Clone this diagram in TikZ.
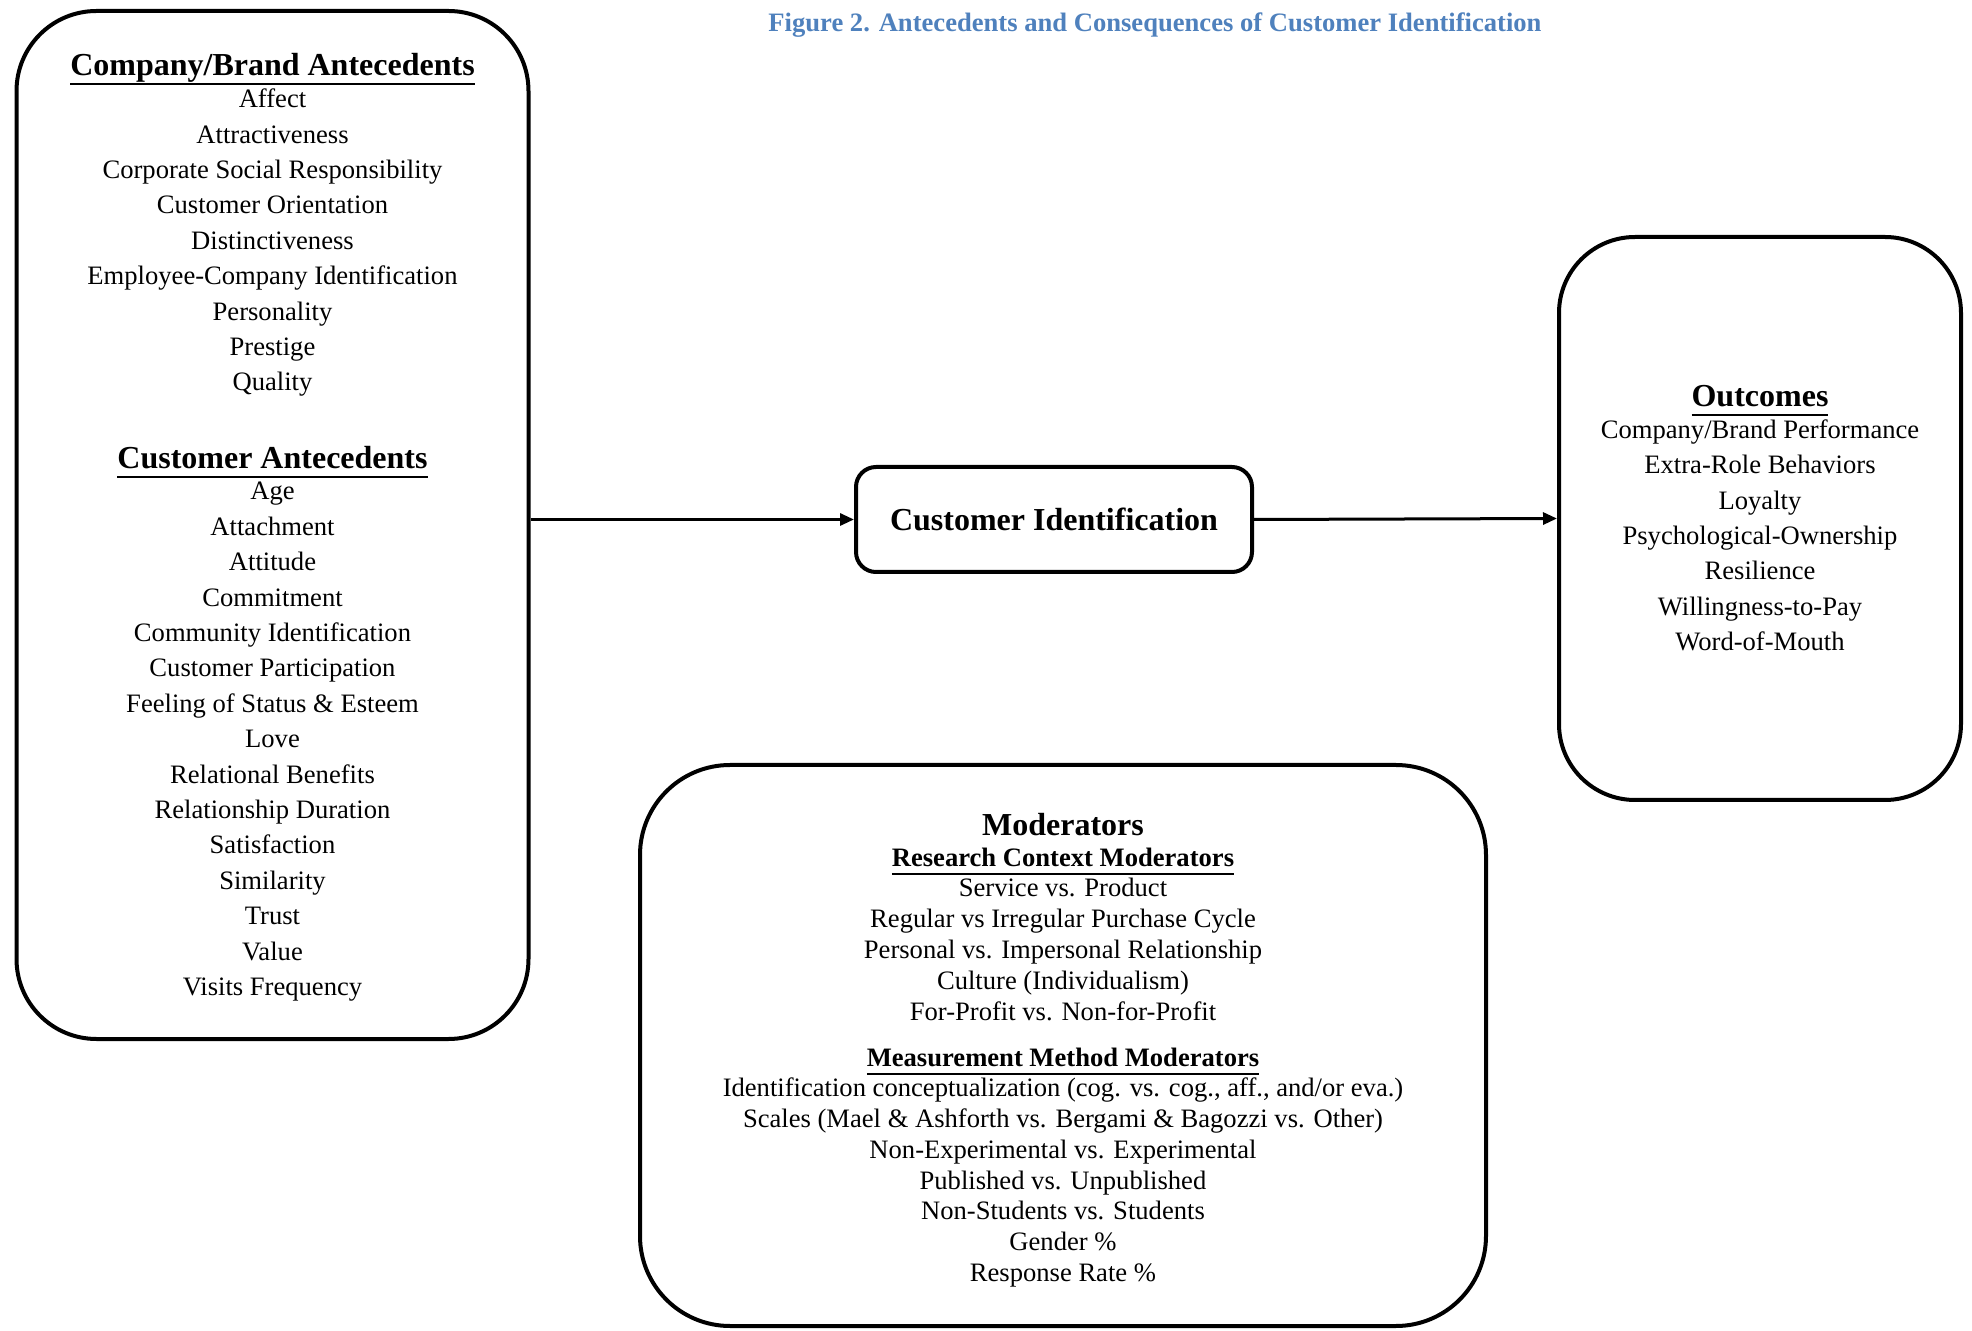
\documentclass[tikz,border=0pt]{standalone}
\usepackage{fontspec}
\setmainfont{Liberation Serif}
\usetikzlibrary{arrows.meta}
\definecolor{figblue}{RGB}{79,129,189}

% thick underline, set just under the descenders
\newcommand{\thickul}[3]{\leavevmode\setbox0=\hbox{#3}\rlap{\rule[-#1]{\wd0}{#2}}\box0}
\newcommand{\hdr}[1]{{\fontsize{16}{17.7}\selectfont\bfseries\thickul{4.6pt}{1.2pt}{#1}}}
\newcommand{\subhdr}[1]{{\bfseries\thickul{3.9pt}{1pt}{#1}}}

\tikzset{
	bigbox/.style={draw, line width=2pt, align=center, inner sep=0pt},
	flow/.style={line width=1.5pt, -{Triangle[length=7pt,width=6pt]}}
}

\begin{document}
\begin{tikzpicture}[x=0.5pt,y=-0.5pt]
%
	\useasboundingbox (0,0) rectangle (1972,1331);
%
	\node[text=figblue, font=\fontsize{13.3}{16}\selectfont\bfseries] (title) at (1155,25)
		{Figure 2. Antecedents and Consequences of Customer Identification};
%
	\node[bigbox, rounded corners=40pt, minimum width=256pt, minimum height=514pt,
		font=\fontsize{13.3}{17.7}\selectfont] (ante) at (272.5,525) {%
		\rule{0pt}{13.5pt}\hdr{Company/Brand Antecedents}\\[-1.8pt]
		Affect\\
		Attractiveness\\
		Corporate Social Responsibility\\
		Customer Orientation\\
		Distinctiveness\\
		Employee-Company Identification\\
		Personality\\
		Prestige\\
		Quality\\[21.3pt]
		\hdr{Customer Antecedents}\\[-2.2pt]
		Age\\
		Attachment\\
		Attitude\\
		Commitment\\
		Community Identification\\
		Customer Participation\\
		Feeling of Status \& Esteem\\
		Love\\
		Relational Benefits\\
		Relationship Duration\\
		Satisfaction\\
		Similarity\\
		Trust\\
		Value\\
		Visits Frequency};
%
	\node[bigbox, rounded corners=10pt, minimum width=198pt, minimum height=52.5pt,
		font=\fontsize{16}{18}\selectfont\bfseries] (cid) at (1054,519.5)
		{Customer Identification};
%
	\node[bigbox, rounded corners=38pt, minimum width=201pt, minimum height=281.5pt,
		font=\fontsize{13.3}{17.7}\selectfont] (outc) at (1760,518.5) {%
		\hdr{Outcomes}\\[-2pt]
		Company/Brand Performance\\
		Extra-Role Behaviors\\
		Loyalty\\
		Psychological-Ownership\\
		Resilience\\
		Willingness-to-Pay\\
		Word-of-Mouth};
%
	\node[bigbox, rounded corners=45pt, minimum width=423pt, minimum height=280.5pt,
		font=\fontsize{13.3}{15.4}\selectfont] (mods) at (1063,1045.5) {%
		\rule{0pt}{15.8pt}{\fontsize{16}{15.4}\selectfont\bfseries Moderators}\\[0.4pt]
		\subhdr{Research Context Moderators}\\[-0.4pt]
		Service vs. Product\\
		Regular vs Irregular Purchase Cycle\\
		Personal vs. Impersonal Relationship\\
		Culture (Individualism)\\
		For-Profit vs. Non-for-Profit\\[7.9pt]
		\subhdr{Measurement Method Moderators}\\[-0.4pt]
		Identification conceptualization (cog. vs. cog., aff., and/or eva.)\\
		Scales (Mael \& Ashforth vs. Bergami \& Bagozzi vs. Other)\\
		Non-Experimental vs. Experimental\\
		Published vs. Unpublished\\
		Non-Students vs. Students\\
		Gender \%\\
		Response Rate \%};
%
	\draw[flow] (ante.east |- cid.west) -- (cid.west);
	\draw[flow] (cid.east) -- (outc.west);
\end{tikzpicture}
\end{document}
